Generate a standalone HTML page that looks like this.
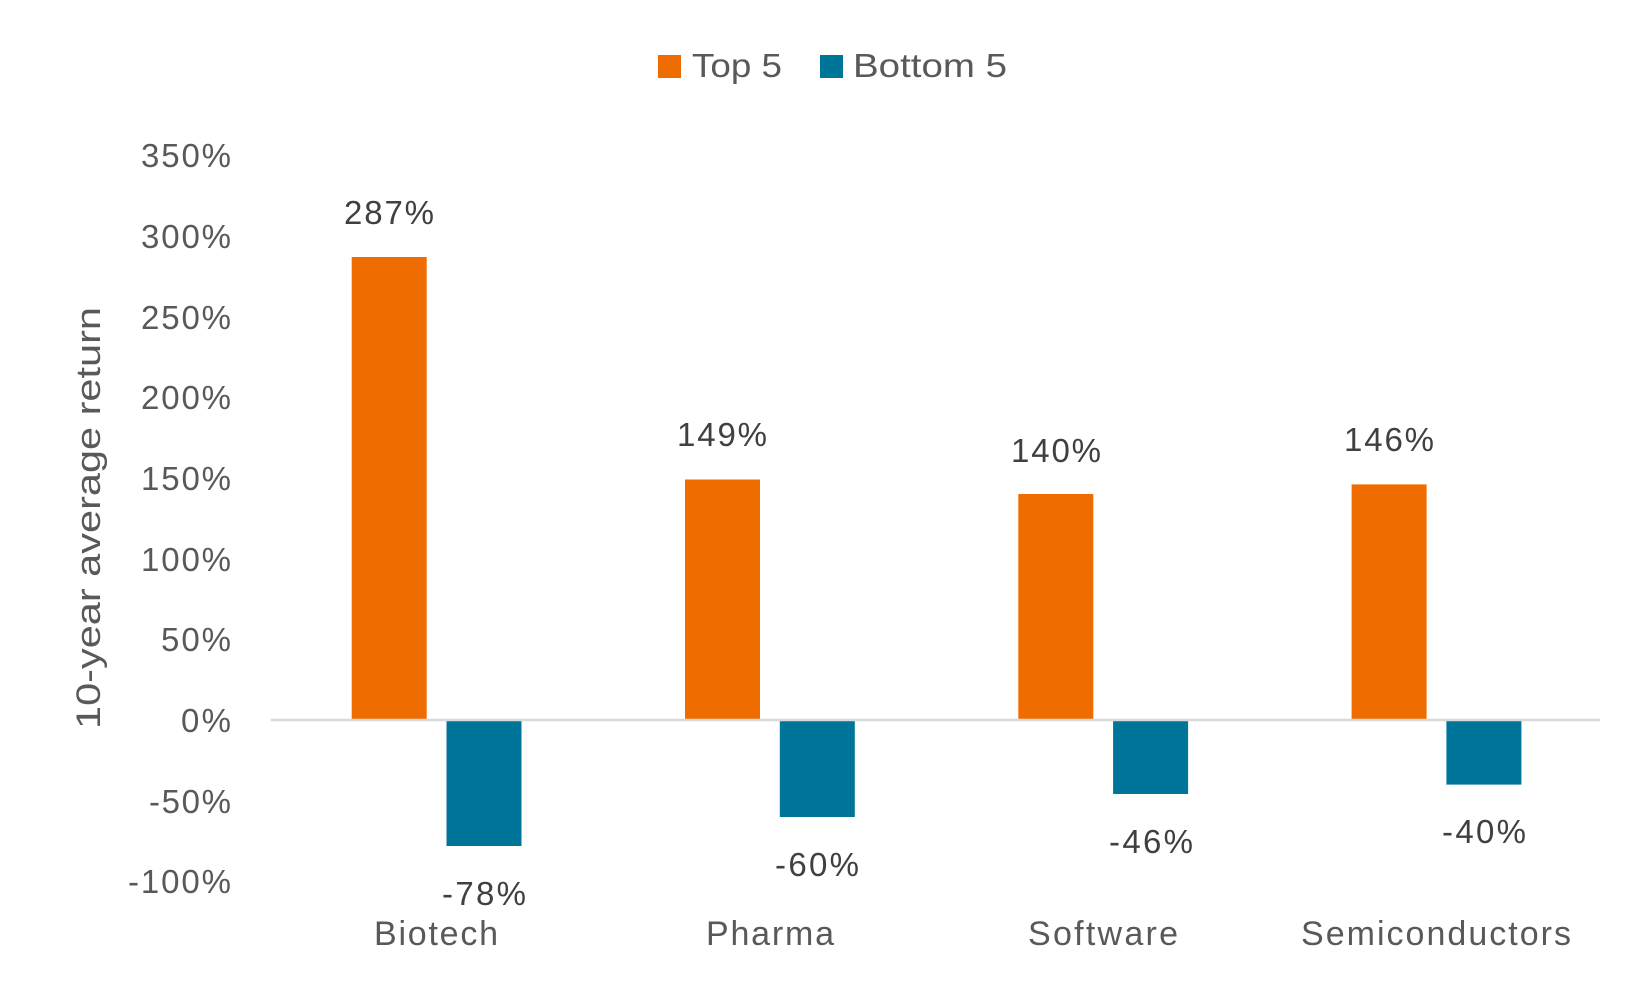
<!DOCTYPE html>
<html><head><meta charset="utf-8"><style>
html,body{margin:0;padding:0;background:#fff;}
svg{display:block;}
text{font-family:"Liberation Sans","DejaVu Sans",sans-serif;}
</style></head><body>
<svg width="1651" height="988" viewBox="0 0 1651 988" xmlns="http://www.w3.org/2000/svg">
<rect width="1651" height="988" fill="#fff"/>
<!-- legend -->
<rect x="658" y="55" width="23" height="23" fill="#EF6C00"/>
<text x="692" y="77" font-size="33" fill="#595959" textLength="90" lengthAdjust="spacingAndGlyphs">Top 5</text>
<rect x="820" y="55" width="23" height="23" fill="#00759A"/>
<text x="853" y="77" font-size="33" fill="#595959" textLength="154" lengthAdjust="spacingAndGlyphs">Bottom 5</text>
<!-- y tick labels -->
<g font-size="33" fill="#595959" text-anchor="end" lengthAdjust="spacingAndGlyphs">
<text x="231" y="167" textLength="90">350%</text>
<text x="231" y="248" textLength="90">300%</text>
<text x="231" y="329" textLength="90">250%</text>
<text x="231" y="409" textLength="90">200%</text>
<text x="231" y="490" textLength="90">150%</text>
<text x="231" y="571" textLength="90">100%</text>
<text x="231" y="651" textLength="70">50%</text>
<text x="231" y="732" textLength="50">0%</text>
<text x="231" y="813" textLength="82">-50%</text>
<text x="231" y="893" textLength="103">-100%</text>
</g>
<!-- y title -->
<text transform="translate(100,518) rotate(-90)" font-size="34" fill="#595959" text-anchor="middle" textLength="422" lengthAdjust="spacingAndGlyphs">10-year average return</text>
<g fill="#EF6C00">
<rect x="351.7" y="257" width="75" height="463"/>
<rect x="685" y="479.5" width="75" height="240.5"/>
<rect x="1018.3" y="494" width="75" height="226"/>
<rect x="1351.6" y="484.4" width="75" height="235.6"/>
</g>
<g fill="#00759A">
<rect x="446.5" y="720" width="75" height="126"/>
<rect x="779.8" y="720" width="75" height="97"/>
<rect x="1113.1" y="720" width="75" height="74"/>
<rect x="1446.4" y="720" width="75" height="64.6"/>
</g>
<line x1="270.6" y1="720" x2="1600" y2="720" stroke="#D9D9D9" stroke-width="2.5"/>
<!-- value labels -->
<g font-size="33" fill="#404040" text-anchor="middle" lengthAdjust="spacingAndGlyphs">
<text x="389" y="224" textLength="90">287%</text>
<text x="722" y="446" textLength="90">149%</text>
<text x="1056" y="462" textLength="90">140%</text>
<text x="1389" y="451" textLength="90">146%</text>
<text x="484" y="905" textLength="84">-78%</text>
<text x="817" y="876" textLength="84">-60%</text>
<text x="1151" y="853" textLength="84">-46%</text>
<text x="1484" y="843" textLength="84">-40%</text>
</g>
<!-- category labels -->
<g font-size="34" fill="#595959" text-anchor="middle" lengthAdjust="spacingAndGlyphs">
<text x="436" y="945" textLength="124">Biotech</text>
<text x="770" y="945" textLength="128">Pharma</text>
<text x="1103" y="945" textLength="150">Software</text>
<text x="1436" y="945" textLength="270">Semiconductors</text>
</g>
</svg>
</body></html>
